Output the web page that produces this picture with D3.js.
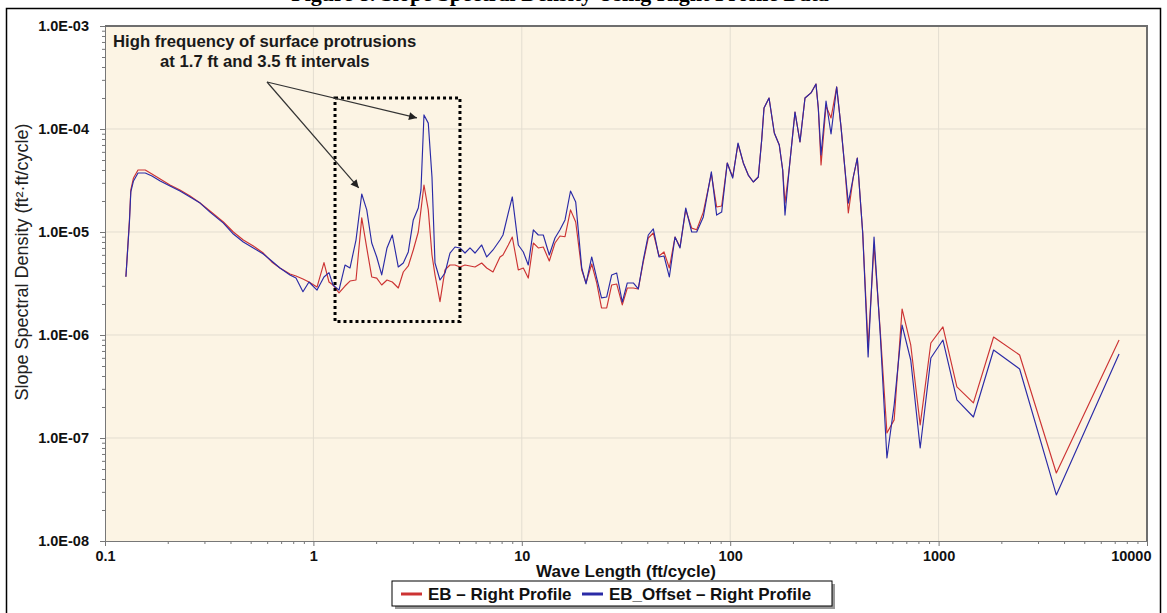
<!DOCTYPE html>
<html><head><meta charset="utf-8">
<script src="https://cdn.jsdelivr.net/npm/d3@7"></script>
<style>body{margin:0;background:#fff}svg{display:block}text{font-family:"Liberation Sans",Arial,sans-serif}</style>
</head><body><svg id="c" width="1167" height="613"></svg>
<script>
// ---- data ----
const wavelength = [
 0.126,0.131,0.133,0.137,0.144,0.156,0.168,0.184,0.205,0.229,0.256,0.286,0.319,0.370,0.413,0.461,0.515,0.575,0.631,0.691,0.772,
 0.825,0.891,0.952,1.041,1.124,1.188,1.242,1.327,1.418,1.498,1.601,1.706,1.803,1.905,2.013,2.127,2.255,2.391,2.555,2.700,
 2.853,3.015,3.186,3.282,3.393,3.558,3.707,3.832,4.050,4.280,4.523,4.780,5.051,5.339,5.642,5.962,6.420,6.785,7.274,7.859,
 8.124,8.614,9.003,9.620,10.17,10.74,11.36,12.0,12.68,13.55,14.43,15.25,
 16.12,17.13,18.14,19.39,20.33,21.65,22.88,24.13,25.55,27.0,28.53,30.35,32.08,34.28,36.22,38.28,40.45,42.76,45.53,48.12,
 51.04,54.35,57.44,61.18,65.36,69.07,74.3,81.2,86.1,91.0,96.8,102.8,109.0,
 115.6,122.1,129.1,136.4,141.6,145.3,153.6,162.8,172.0,178.6,183.2,192.1,204.6,216.2,228.5,244.2,258.0,264.7,272.8,288.3,
 304.7,324.3,340.2,355.6,368.8,389.7,407.3,432.4,459,490,525,565,612,668,735,816,918,1049,1224,1469,1836,2448,3672,7345
];
const ebRight = [
 3.68e-6,1.31e-5,2.56e-5,3.35e-5,4.0e-5,4.0e-5,3.66e-5,3.27e-5,2.86e-5,2.56e-5,2.24e-5,1.91e-5,1.6e-5,1.25e-5,1.0e-5,8.36e-6,7.31e-6,6.25e-6,5.12e-6,4.47e-6,3.91e-6,
 3.74e-6,3.5e-6,3.27e-6,2.92e-6,5.04e-6,3.27e-6,3.06e-6,2.56e-6,2.99e-6,3.34e-6,3.42e-6,1.37e-5,7.0e-6,3.66e-6,3.57e-6,3.06e-6,3.42e-6,3.27e-6,2.86e-6,4.09e-6,
 4.68e-6,6.69e-6,1.0e-5,1.64e-5,2.86e-5,1.64e-5,5.98e-6,3.83e-6,2.11e-6,4.28e-6,4.78e-6,4.78e-6,4.57e-6,4.78e-6,4.68e-6,4.57e-6,5.0e-6,4.47e-6,4.09e-6,5.72e-6,
 5.98e-6,7.48e-6,8.94e-6,4.28e-6,4.47e-6,3.57e-6,7.82e-6,7.0e-6,7.15e-6,5.23e-6,7.82e-6,9.14e-6,
 9.0e-6,1.64e-5,1.25e-5,4.28e-6,3.2e-6,4.89e-6,3.2e-6,1.83e-6,1.83e-6,3.06e-6,3.13e-6,1.96e-6,2.86e-6,2.86e-6,2.8e-6,5.12e-6,8.75e-6,9.78e-6,5.85e-6,6.4e-6,
 4.47e-6,8.94e-6,7.15e-6,1.64e-5,1.09e-5,1.05e-5,1.56e-5,3.66e-5,1.75e-5,1.79e-5,4.68e-5,3.42e-5,7.15e-5,
 4.68e-5,3.57e-5,3.06e-5,3.42e-5,7.82e-5,1.6e-4,2.0e-4,9.14e-5,7.0e-5,4.0e-5,1.91e-5,4.18e-5,1.46e-4,7.48e-5,2.0e-4,2.24e-4,2.73e-4,1.6e-4,4.47e-5,1.67e-4,
 1.28e-4,2.56e-4,1.05e-4,4.0e-5,1.53e-5,3.42e-5,5.23e-5,9.78e-6,7.64e-7,7.48e-6,1.09e-6,1.12e-7,1.5e-7,1.79e-6,8.0e-7,1.34e-7,8.36e-7,1.2e-6,3.13e-7,2.19e-7,9.56e-7,6.4e-7,4.57e-8,8.94e-7
];
const ebOffsetRight = [
 3.68e-6,1.25e-5,2.45e-5,3.13e-5,3.74e-5,3.74e-5,3.5e-5,3.13e-5,2.8e-5,2.5e-5,2.19e-5,1.91e-5,1.56e-5,1.22e-5,9.56e-6,8.0e-6,7.0e-6,6.11e-6,5.23e-6,4.47e-6,3.83e-6,
 3.57e-6,2.63e-6,3.27e-6,2.73e-6,3.66e-6,4.03e-6,3.06e-6,2.73e-6,4.78e-6,4.47e-6,8.36e-6,2.34e-5,1.64e-5,7.82e-6,5.72e-6,3.83e-6,7.0e-6,9.35e-6,4.57e-6,5.0e-6,
 6.4e-6,1.31e-5,1.71e-5,2.56e-5,1.37e-4,1.14e-4,3.42e-5,5.0e-6,3.42e-6,4.0e-6,6.25e-6,7.15e-6,7.0e-6,6.25e-6,7.0e-6,6.25e-6,7.48e-6,5.72e-6,6.69e-6,8.36e-6,
 9.35e-6,1.53e-5,2.19e-5,7.48e-6,6.4e-6,4.78e-6,1.05e-5,9.35e-6,9.35e-6,5.98e-6,8.75e-6,1.05e-5,
 1.31e-5,2.5e-5,1.96e-5,4.47e-6,3.13e-6,5.72e-6,3.57e-6,2.29e-6,2.34e-6,3.83e-6,4.0e-6,2.09e-6,3.2e-6,3.2e-6,2.8e-6,5.35e-6,9.35e-6,1.07e-5,5.72e-6,5.85e-6,
 3.66e-6,8.94e-6,7.0e-6,1.71e-5,1.0e-5,1.0e-5,1.4e-5,3.83e-5,1.46e-5,1.56e-5,4.68e-5,3.34e-5,7.31e-5,
 4.68e-5,3.57e-5,3.06e-5,3.42e-5,7.82e-5,1.6e-4,2.0e-4,9.14e-5,7.0e-5,4.0e-5,1.46e-5,4.18e-5,1.46e-4,7.48e-5,2.0e-4,2.24e-4,2.73e-4,1.6e-4,5.6e-5,1.87e-4,
 8.94e-5,2.56e-4,1.05e-4,4.0e-5,1.91e-5,3.42e-5,5.23e-5,9.78e-6,6.11e-7,8.94e-6,1.0e-6,6.4e-8,2.09e-7,1.25e-6,5.72e-7,8.0e-8,5.98e-7,8.94e-7,2.34e-7,1.6e-7,7.15e-7,4.68e-7,2.8e-8,6.54e-7
];
const seriesNames = ["EB \u2013 Right Profile", "EB_Offset \u2013 Right Profile"];
const seriesColors = ["#cc3333", "#2a2aa6"];
const xTickValues = [0.1, 1, 10, 100, 1000, 10000];
const xTickLabels = ["0.1", "1", "10", "100", "1000", "10000"];
const yTickValues = [1e-8, 1e-7, 1e-6, 1e-5, 1e-4, 1e-3];
const yTickLabels = ["1.0E-08", "1.0E-07", "1.0E-06", "1.0E-05", "1.0E-04", "1.0E-03"];
const annotationLines = ["High frequency of surface protrusions", "at 1.7 ft and 3.5 ft intervals"];
const boxRange = {x: [1.27, 5.05], y: [1.35e-6, 2.0e-4]};
const peakTargets = [[1.706, 2.34e-5], [3.393, 1.37e-4]];

// ---- layout ----
const svg = d3.select("#c");
const L = 105, R = 1147, T = 26, B = 541;
const x = d3.scaleLog().domain([0.1, 10000]).range([L, R]);
const y = d3.scaleLog().domain([1e-8, 1e-3]).range([B, T]);

svg.append("rect").attr("width", 1167).attr("height", 613).attr("fill", "#fff");

// cut-off title at the very top (only its lower edge shows, as in the reference)
svg.append("text").attr("x", 560).attr("y", 1).attr("text-anchor", "middle")
  .style("font-family", "'Liberation Serif','Times New Roman',serif").style("font-weight", "bold")
  .style("font-size", "22px").attr("fill", "#000")
  .text("Figure 8. Slope Spectral Density Using Right Profile Data");

// outer frame
svg.append("rect").attr("x", 6.5).attr("y", 8.5).attr("width", 1154).attr("height", 620)
  .attr("fill", "none").attr("stroke", "#000").attr("stroke-width", 1.5);

// plot background
svg.append("rect").attr("x", L).attr("y", T).attr("width", R - L).attr("height", B - T).attr("fill", "#fcf4e4");

// grid
const grid = svg.append("g").attr("stroke", "#e3ddd0").attr("stroke-width", 1);
xTickValues.slice(1, -1).forEach(v => grid.append("line").attr("x1", x(v)).attr("x2", x(v)).attr("y1", T).attr("y2", B));
yTickValues.slice(1, -1).forEach(v => grid.append("line").attr("y1", y(v)).attr("y2", y(v)).attr("x1", L).attr("x2", R));

// minor ticks
const minorY = [], minorX = [];
for (let e = -8; e < -3; e++) for (let k = 2; k < 10; k++) minorY.push(k * Math.pow(10, e));
for (let e = -1; e < 4; e++) for (let k = 2; k < 10; k++) minorX.push(k * Math.pow(10, e));
svg.append("g").attr("transform", `translate(${L},0)`)
  .call(d3.axisLeft(y).tickValues(minorY).tickSize(3).tickFormat(""))
  .call(g => g.select(".domain").remove()).selectAll("line").attr("stroke", "#777");
svg.append("g").attr("transform", `translate(0,${B})`)
  .call(d3.axisBottom(x).tickValues(minorX).tickSize(3).tickFormat(""))
  .call(g => g.select(".domain").remove()).selectAll("line").attr("stroke", "#777");

// major axes
const yAxis = svg.append("g").attr("transform", `translate(${L},0)`)
  .call(d3.axisLeft(y).tickValues(yTickValues).tickSize(5).tickSizeOuter(0).tickPadding(11)
    .tickFormat((d, i) => yTickLabels[i]));
yAxis.select(".domain").attr("stroke", "#777");
yAxis.selectAll("line").attr("stroke", "#777");
yAxis.selectAll("text").style("font-size", "14.5px").style("font-weight", "bold").attr("fill", "#111");

const xAxis = svg.append("g").attr("transform", `translate(0,${B})`)
  .call(d3.axisBottom(x).tickValues(xTickValues).tickSize(5).tickSizeOuter(0).tickPadding(5)
    .tickFormat((d, i) => xTickLabels[i]));
xAxis.select(".domain").attr("stroke", "#777");
xAxis.selectAll("line").attr("stroke", "#777");
xAxis.selectAll("text").style("font-size", "14.5px").style("font-weight", "bold").attr("fill", "#111");
xAxis.selectAll("text").filter((d, i) => i === xTickValues.length - 1).attr("text-anchor", "end").attr("dx", "4");

// top / right borders of plot area
svg.append("line").attr("x1", L).attr("x2", R + 1).attr("y1", T).attr("y2", T).attr("stroke", "#6e6e6e").attr("stroke-width", 2);
svg.append("line").attr("x1", R).attr("x2", R).attr("y1", T).attr("y2", B).attr("stroke", "#6e6e6e").attr("stroke-width", 2);

// axis titles
svg.append("text").attr("x", (L + R) / 2).attr("y", 577).attr("text-anchor", "middle")
  .style("font-size", "17px").style("font-weight", "bold").attr("fill", "#111").text("Wave Length (ft/cycle)");
svg.append("text").attr("transform", `translate(28,262) rotate(-90)`).attr("text-anchor", "middle")
  .style("font-size", "18px").attr("fill", "#222").text("Slope Spectral Density (ft\u00b2\u00b7ft/cycle)");

// series
const line = d3.line().x(d => x(d[0])).y(d => y(d[1]));
[ebRight, ebOffsetRight].forEach((vals, si) => {
  svg.append("path").datum(wavelength.map((w, i) => [w, vals[i]]))
    .attr("d", line).attr("fill", "none").attr("stroke", seriesColors[si])
    .attr("stroke-width", 1.15).attr("stroke-linejoin", "round");
});

// annotation box
svg.append("rect").attr("x", x(boxRange.x[0])).attr("y", y(boxRange.y[1]))
  .attr("width", x(boxRange.x[1]) - x(boxRange.x[0])).attr("height", y(boxRange.y[0]) - y(boxRange.y[1]))
  .attr("fill", "none").attr("stroke", "#000").attr("stroke-width", 3).attr("stroke-dasharray", "3,3");

// annotation text
svg.append("text").attr("x", 113).attr("y", 47).style("font-size", "16.7px").style("font-weight", "bold")
  .attr("fill", "#1a1a1a").text(annotationLines[0]);
svg.append("text").attr("x", 160).attr("y", 67).style("font-size", "16.7px").style("font-weight", "bold")
  .attr("fill", "#1a1a1a").text(annotationLines[1]);

// arrows
svg.append("defs").append("marker").attr("id", "ah").attr("viewBox", "0 0 10 10").attr("refX", 10).attr("refY", 5)
  .attr("markerWidth", 10).attr("markerHeight", 8).attr("markerUnits", "userSpaceOnUse").attr("orient", "auto")
  .append("path").attr("d", "M0,0 L10,5 L0,10 z").attr("fill", "#222");
const origin = [267, 82];
const tips = [[x(peakTargets[0][0]) - 3, y(peakTargets[0][1]) - 6], [x(peakTargets[1][0]) - 7, y(peakTargets[1][1]) + 3]];
tips.forEach(t => svg.append("line").attr("x1", origin[0]).attr("y1", origin[1]).attr("x2", t[0]).attr("y2", t[1])
  .attr("stroke", "#333").attr("stroke-width", 1.2).attr("marker-end", "url(#ah)"));

// legend
const lg = svg.append("g");
lg.append("rect").attr("x", 395).attr("y", 584).attr("width", 440).attr("height", 25).attr("fill", "#999");
lg.append("rect").attr("x", 392).attr("y", 581).attr("width", 440).attr("height", 25).attr("fill", "#fff")
  .attr("stroke", "#000").attr("stroke-width", 1);
const lgX = [401, 582];
seriesNames.forEach((n, i) => {
  lg.append("line").attr("x1", lgX[i]).attr("x2", lgX[i] + 21).attr("y1", 594).attr("y2", 594)
    .attr("stroke", seriesColors[i]).attr("stroke-width", 3);
  lg.append("text").attr("x", lgX[i] + 27).attr("y", 600).style("font-size", "17px").style("font-weight", "bold")
    .attr("fill", "#111").text(n);
});
</script></body></html>
